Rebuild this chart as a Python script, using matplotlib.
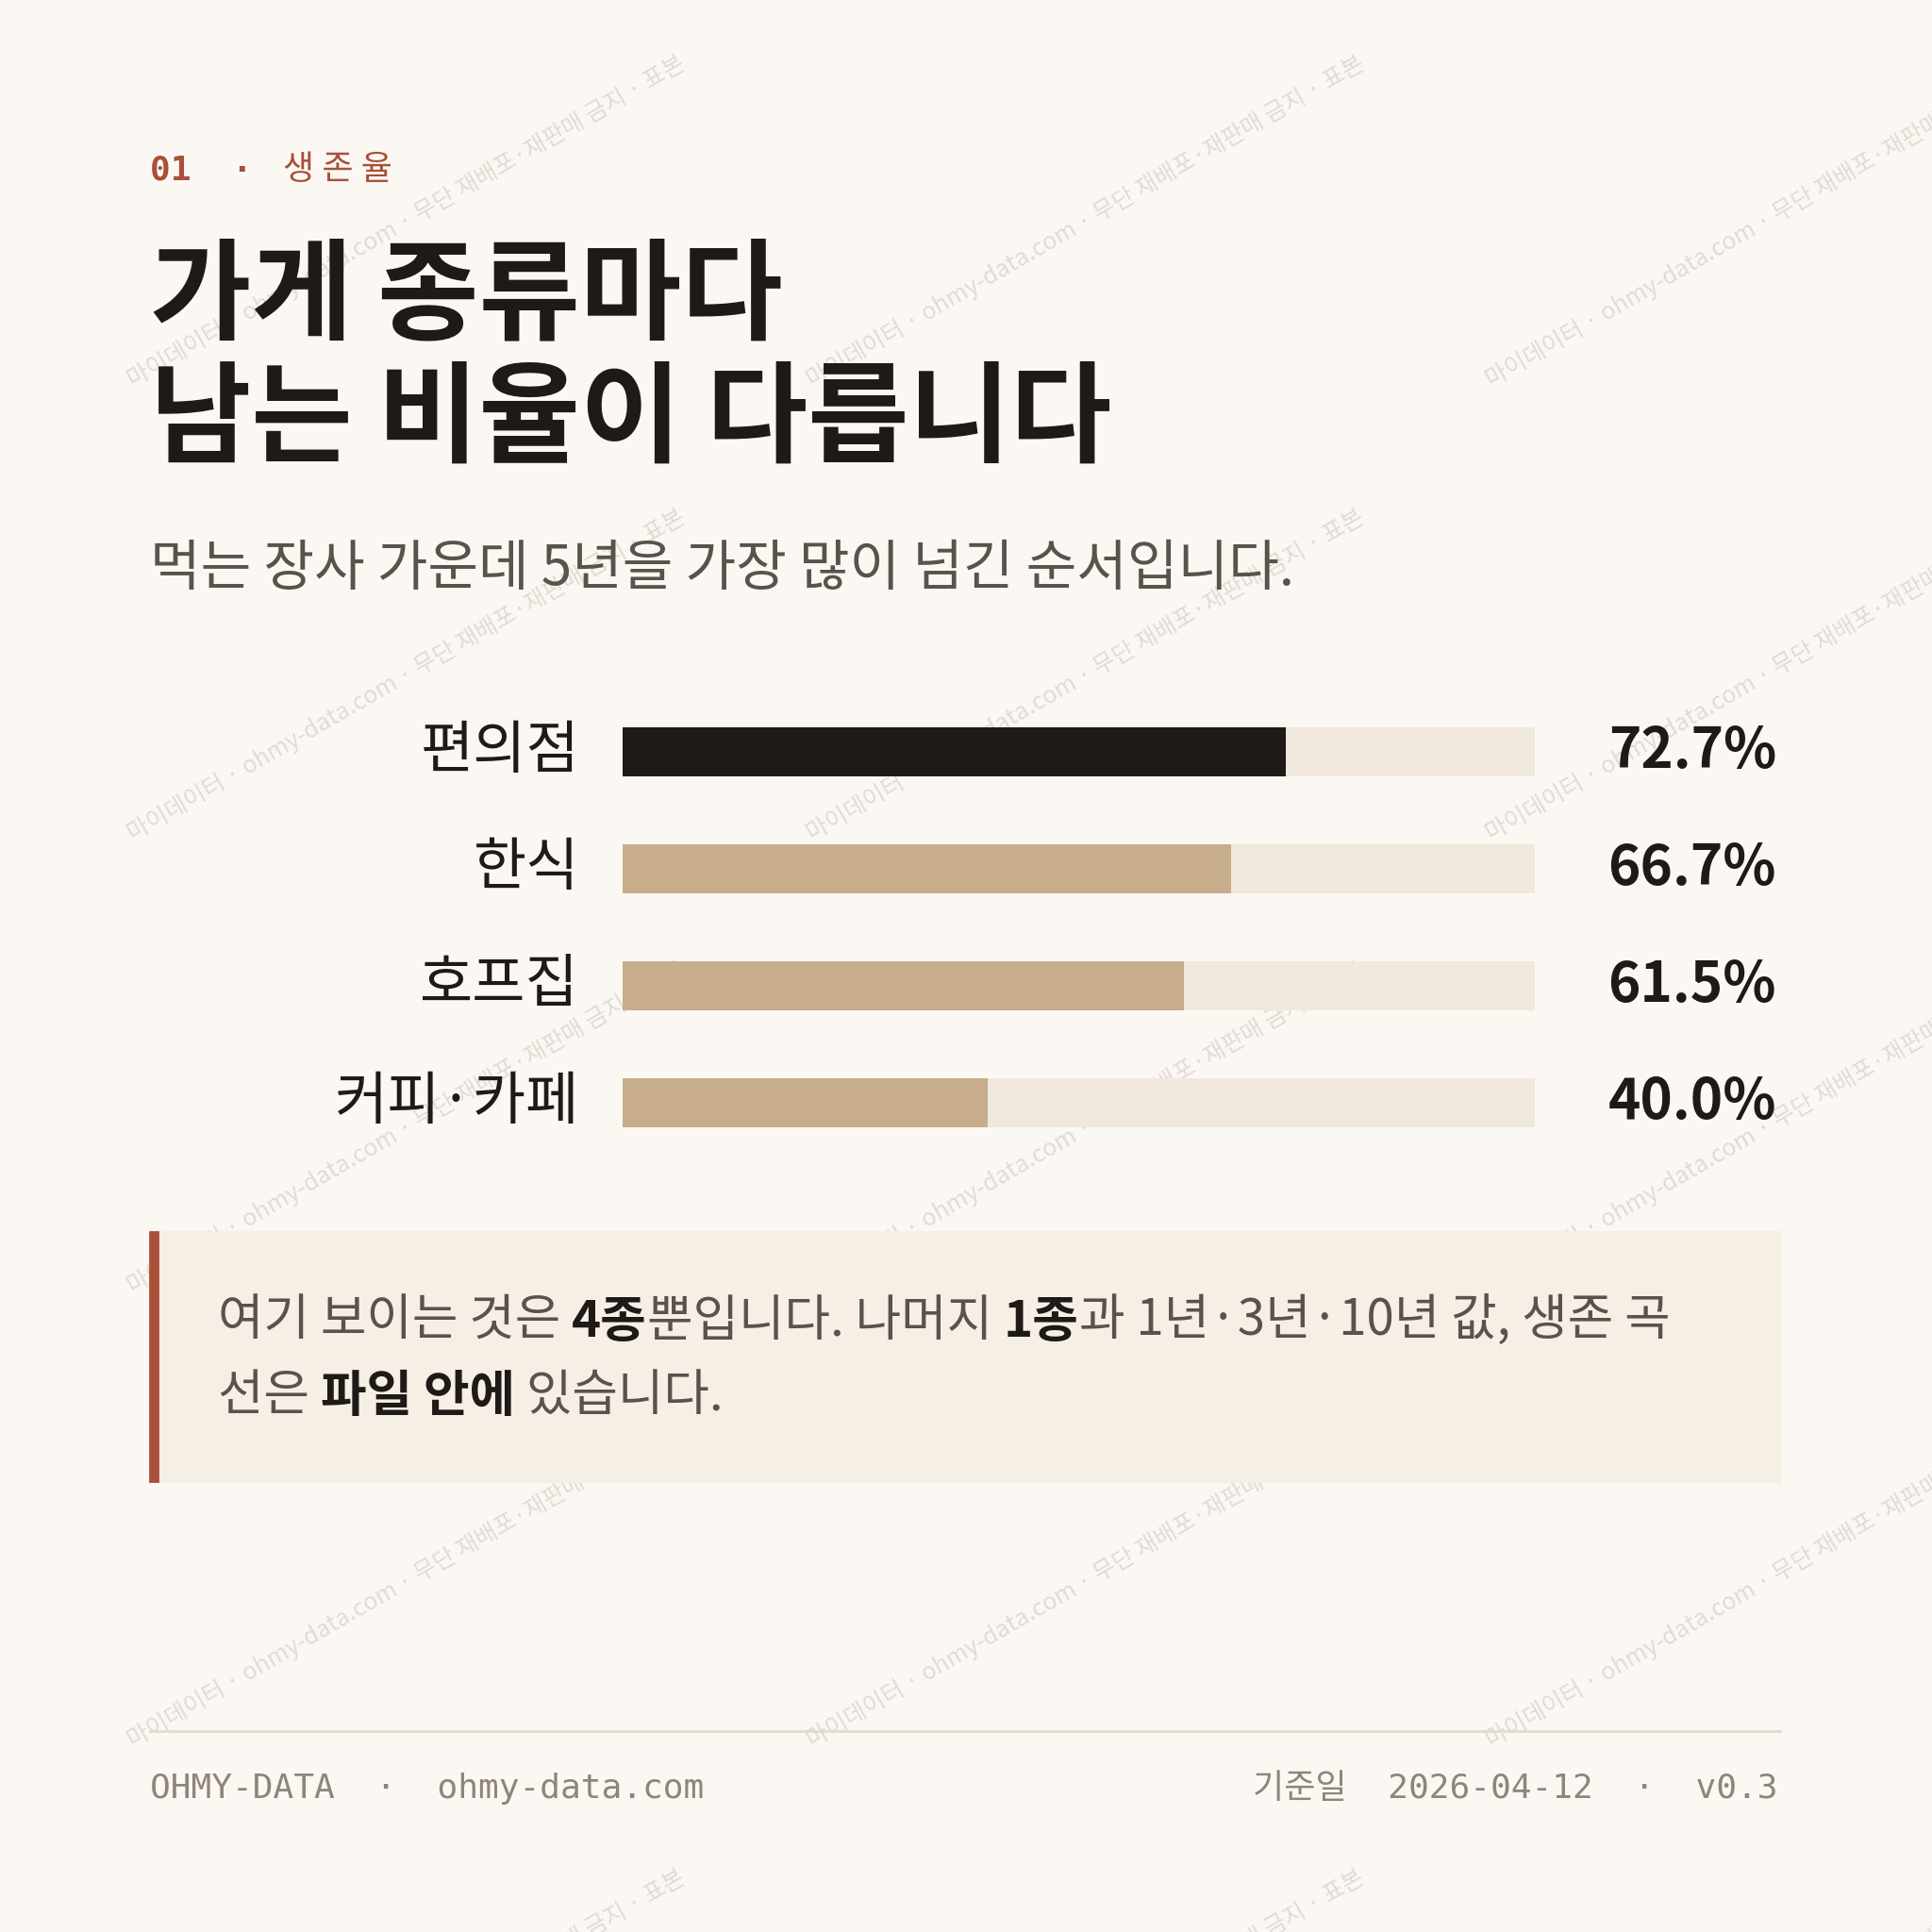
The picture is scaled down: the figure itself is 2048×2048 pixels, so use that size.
import matplotlib.pyplot as plt
import matplotlib.patches as mpatches

plt.rcParams['font.family'] = ['Noto Sans CJK KR', 'DejaVu Sans']

categories = ['편의점', '한식', '호프집', '커피·카페']
values = [72.7, 66.7, 61.5, 40.0]
value_labels = ['72.7%', '66.7%', '61.5%', '40.0%']
bar_colors = ['#1f1a17', '#c8ad8c', '#c8ad8c', '#c8ad8c']

BG = '#fbf8f3'
ACCENT = '#a9503a'
TRACK = '#f0e8dc'
W = 1568.0

fig = plt.figure(figsize=(10.24, 10.24), dpi=200, facecolor=BG)
ax = fig.add_axes([0, 0, 1, 1])
ax.set_xlim(0, W)
ax.set_ylim(W, 0)
ax.axis('off')

# watermark
wm = '마이데이터 · ohmy-data.com · 무단 재배포·재판매 금지 · 표본'
for row in range(-1, 5):
    for col in range(0, 3):
        x = col * 551 + 330
        y = row * 368 + 180
        ax.text(x, y, wm, rotation=30, fontsize=9, color='#d8d2ca', alpha=0.75,
                ha='center', va='center', clip_on=True, zorder=0)

mono = ['DejaVu Sans Mono', 'Noto Sans CJK KR']
ax.text(122, 138, '01  ·  ', fontsize=13, color=ACCENT, fontweight='bold',
        family=mono, va='center')
ax.text(230, 138, '생 존 율', fontsize=13, color=ACCENT, va='center')

ax.text(122, 242, '가게 종류마다', fontsize=42, fontweight='bold', color='#1f1a17', va='center')
ax.text(122, 342, '남는 비율이 다릅니다', fontsize=42, fontweight='bold', color='#1f1a17', va='center')
ax.text(122, 462, '먹는 장사 가운데 5년을 가장 많이 넘긴 순서입니다.', fontsize=21,
        color='#5a524b', va='center')

# bars
bx = fig.add_axes([505 / W, 1 - 942.5 / W, (1246 - 505) / W, 380 / W])
bx.set_xlim(0, 100)
bx.set_ylim(len(categories) - 0.5, -0.5)
bx.axis('off')
pos = list(range(len(categories)))
bx.barh(pos, [100] * len(pos), height=0.42, color=TRACK)
bx.barh(pos, values, height=0.42, color=bar_colors)
for i, (c, lab) in enumerate(zip(categories, value_labels)):
    bx.text(-4.7, i, c, ha='right', va='center', fontsize=22, color='#1f1a17')
    bx.text(126.4, i, lab, ha='right', va='center', fontsize=21, fontweight='bold',
            color='#1f1a17', clip_on=False)

# callout
ax.add_patch(mpatches.Rectangle((122, 1000), 1323, 202, color='#f6efe5', zorder=1))
ax.add_patch(mpatches.Rectangle((122, 1000), 6, 202, color=ACCENT, zorder=2))


def rich(x, y, parts):
    prev = ax.text(x, y, parts[0][0], fontsize=19, color='#5a524b' if not parts[0][1] else '#1f1a17',
                   fontweight='bold' if parts[0][1] else 'normal', va='center', zorder=3)
    for t, b in parts[1:]:
        prev = ax.annotate(t, xy=(1, 0), xycoords=prev, va='bottom', fontsize=19,
                           color='#1f1a17' if b else '#5a524b',
                           fontweight='bold' if b else 'normal', zorder=3)


rich(177, 1072, [('여기 보이는 것은 ', False), ('4종', True), ('뿐입니다. 나머지 ', False),
                 ('1종', True), ('과 1년·3년·10년 값, 생존 곡', False)])
rich(177, 1133, [('선은 ', False), ('파일 안에', True), (' 있습니다.', False)])

# footer
ax.plot([122, 1445], [1405, 1405], color='#e3dbcf', lw=1)
ax.text(122, 1452, 'OHMY-DATA  ·  ohmy-data.com', fontsize=13, color='#8f8578',
        family=mono, va='center')
ax.text(1443, 1452, '기준일  2026-04-12  ·  v0.3', fontsize=13, color='#8f8578',
        family=mono, va='center', ha='right')

fig.savefig('out.png', dpi=200, facecolor=BG)
